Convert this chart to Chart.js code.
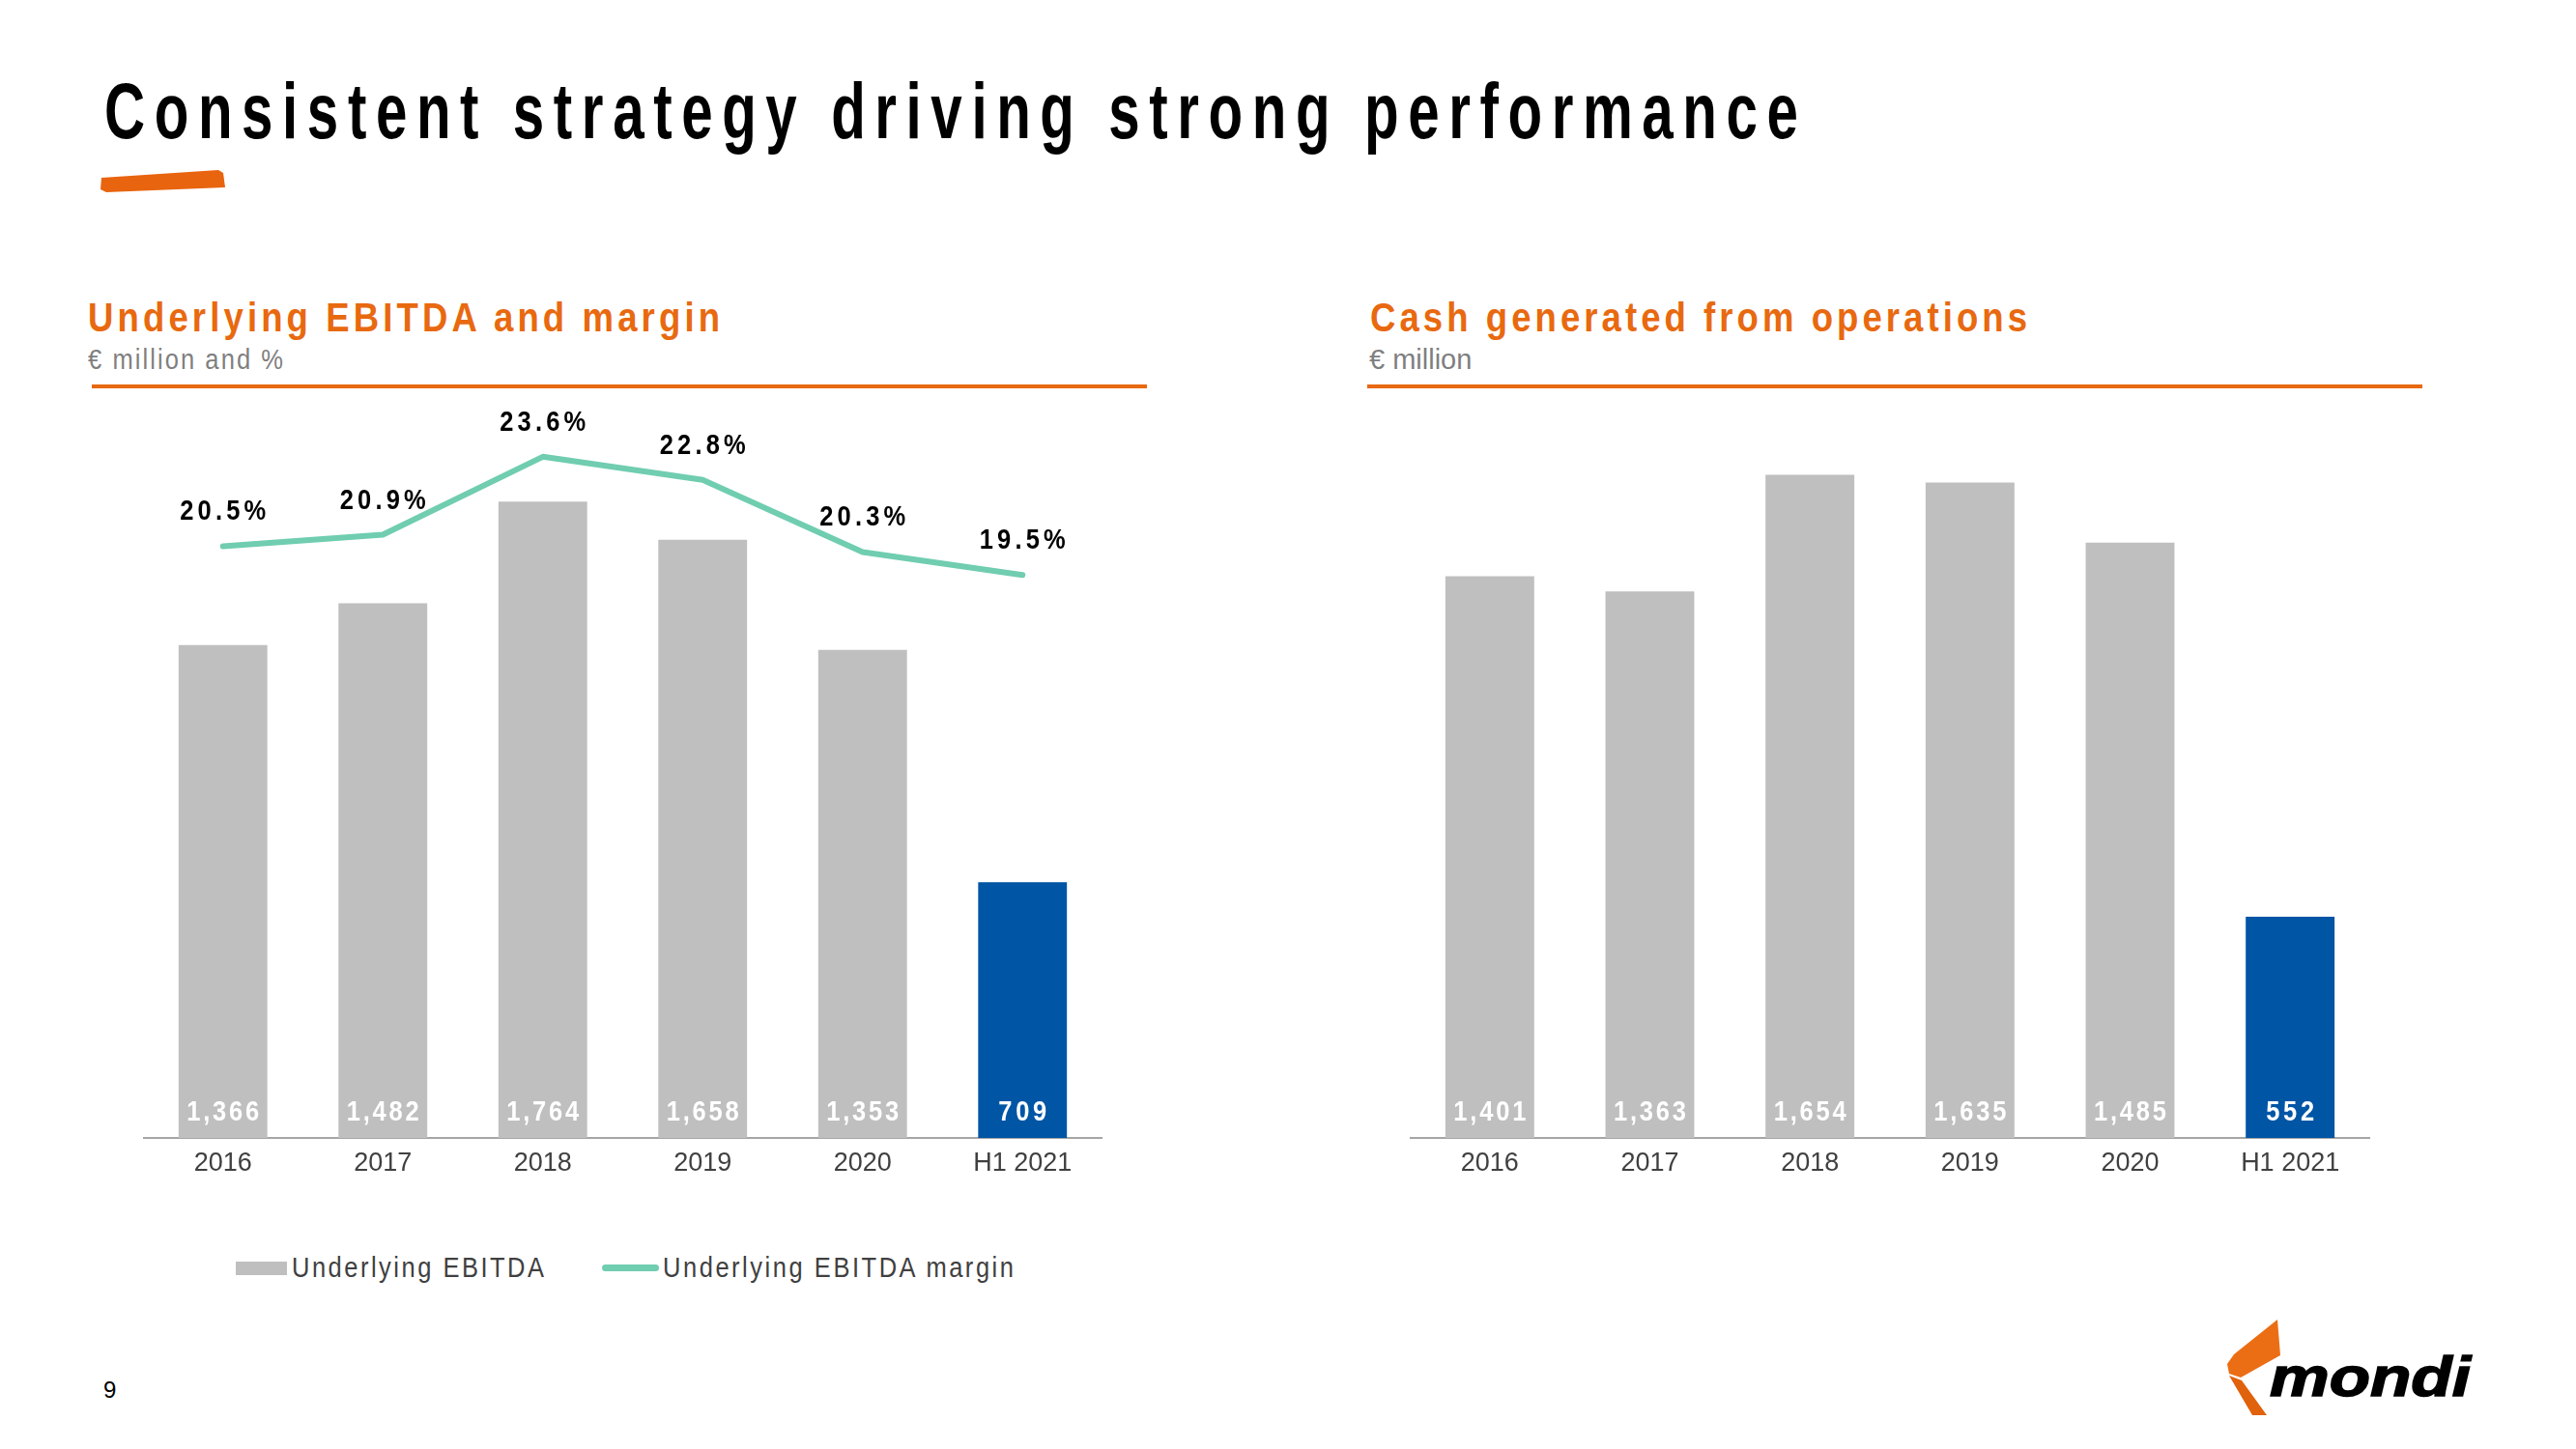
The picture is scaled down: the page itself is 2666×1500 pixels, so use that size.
<!DOCTYPE html>
<html><head><meta charset="utf-8">
<script src="https://cdn.jsdelivr.net/npm/chart.js@4.4.0/dist/chart.umd.min.js"></script>
<style>
html,body{margin:0;padding:0;background:#fff;}
body{width:2666px;height:1500px;position:relative;overflow:hidden;font-family:'Liberation Sans',Arial,sans-serif;}
.t{position:absolute;white-space:nowrap;line-height:1;transform-origin:0 0;}
canvas{position:absolute;}
.blk{position:absolute;}
</style></head><body>

<div class="t" style="left:108px;top:75px;font-size:81px;font-weight:bold;color:#000" data-w="1753" data-s="0.72">Consistent strategy driving strong performance</div>
<svg class="blk" style="left:0;top:0" width="300" height="220" viewBox="0 0 300 220">
  <polygon points="105,184 226,176 231,179 233,194 110,199 104,196" fill="#E8640E"/>
</svg>

<div class="t" style="left:91px;top:307px;font-size:43px;font-weight:bold;color:#E8690F" data-w="654" data-s="0.85">Underlying EBITDA and margin</div>
<div class="t" style="left:91px;top:358px;font-size:29px;color:#7F7F7F" data-w="202" data-s="0.88">€ million and %</div>
<div class="blk" style="left:95px;top:398px;width:1092px;height:4px;background:#E8690F"></div>

<div class="t" style="left:1418px;top:307px;font-size:43px;font-weight:bold;color:#E8690F" data-w="680" data-s="0.85">Cash generated from operations</div>
<div class="t" style="left:1417px;top:358px;font-size:29px;color:#7F7F7F">€ million</div>
<div class="blk" style="left:1415px;top:398px;width:1092px;height:4px;background:#E8690F"></div>

<canvas id="c1" width="993" height="889" style="left:148px;top:351px"></canvas>
<canvas id="c2" width="994" height="889" style="left:1459px;top:351px"></canvas>

<div class="blk" style="left:244px;top:1306px;width:53px;height:14px;background:#BFBFBF"></div>
<div class="t" style="left:302px;top:1297px;font-size:30px;color:#404040" data-w="261" data-s="0.85">Underlying EBITDA</div>
<div class="blk" style="left:623px;top:1308.5px;width:59px;height:7px;border-radius:4px;background:#70CDB0"></div>
<div class="t" style="left:686px;top:1297px;font-size:30px;color:#404040" data-w="363" data-s="0.85">Underlying EBITDA margin</div>

<div class="t" style="left:107px;top:1427px;font-size:24px;color:#000">9</div>

<svg class="blk" style="left:2280px;top:1350px" width="320" height="130" viewBox="2280 1350 320 130">
  <polygon points="2357,1366 2360,1403 2319,1426 2307,1422 2305,1412 2312,1402" fill="#EB6E14"/>
  <polygon points="2307,1424 2320,1429 2346,1465 2331,1465" fill="#E0620C"/>
  <text x="2349" y="1445" font-family="Liberation Sans, Arial" font-weight="900" font-style="italic" font-size="58" textLength="208" lengthAdjust="spacingAndGlyphs" fill="#000" stroke="#000" stroke-width="1.5">mondi</text>
</svg>

<script>
// ---- data ----
const categories = ['2016', '2017', '2018', '2019', '2020', 'H1 2021'];
const ebitda = [1366, 1482, 1764, 1658, 1353, 709];
const ebitdaMargin = [20.5, 20.9, 23.6, 22.8, 20.3, 19.5];
const cashGenerated = [1401, 1363, 1654, 1635, 1485, 552];

// ---- styles ----
const GRAY = '#BFBFBF', BLUE = '#0055A5', TEAL = '#70CDB0';
const barColors = categories.map(c => c.startsWith('H1') ? BLUE : GRAY);

// fit HTML text: condensed glyphs with letter spacing
document.querySelectorAll('.t[data-w]').forEach(el => {
  const s = +el.dataset.s, w = +el.dataset.w;
  el.style.letterSpacing = '0px';
  const w0 = el.getBoundingClientRect().width;
  const n = [...el.textContent].length;
  const ls = (w / s - w0) / (n - 1);
  el.style.letterSpacing = ls + 'px';
  el.style.transform = 'scaleX(' + s + ')';
});

function drawSpaced(ctx, text, cx, baseY, s, extra) {
  const W = ctx.measureText(text).width;
  const n = text.length;
  const ls = n > 1 ? (W * (1 - s) / s + (extra || 0) / s) / (n - 1) : 0;
  const total = s * (W + ls * (n - 1));
  ctx.save();
  ctx.translate(cx - total / 2, baseY);
  ctx.scale(s, 1);
  ctx.letterSpacing = ls + 'px';
  ctx.textAlign = 'left';
  ctx.textBaseline = 'alphabetic';
  ctx.fillText(text, 0, 0);
  ctx.restore();
}

const labelPlugin = {
  id: 'valueLabels',
  afterDatasetsDraw(chart) {
    const ctx = chart.ctx;
    chart.data.datasets.forEach((ds, i) => {
      const meta = chart.getDatasetMeta(i);
      if (meta.type === 'line') {
        ctx.font = 'bold 30px "Liberation Sans", Arial';
        ctx.fillStyle = '#000';
        meta.data.forEach((pt, j) => {
          drawSpaced(ctx, ds.data[j].toFixed(1) + '%', pt.x, pt.y - 27, 0.85, 4);
        });
      } else {
        ctx.font = 'bold 30px "Liberation Sans", Arial';
        meta.data.forEach((bar, j) => {
          ctx.fillStyle = '#FFFFFF';
          drawSpaced(ctx, ds.data[j].toLocaleString('en-US'), bar.x, bar.base - 18, 0.85, 0);
        });
      }
    });
  }
};

function xScale(h) {
  return {
    grid: { display: false, drawTicks: false },
    border: { display: true, color: '#A6A6A6', width: 2 },
    ticks: { color: '#404040', font: { family: '"Liberation Sans", Arial', size: 27 }, padding: 10 },
    afterFit: s => { s.height = h; }
  };
}

const common = {
  responsive: false,
  animation: false,
  devicePixelRatio: 1,
  layout: { padding: { top: 80, left: 0, right: 0, bottom: 0 } },
  plugins: { legend: { display: false }, tooltip: { enabled: false } }
};

new Chart(document.getElementById('c1'), {
  type: 'bar',
  data: {
    labels: categories,
    datasets: [
      { type: 'line', label: 'Underlying EBITDA margin', data: ebitdaMargin, yAxisID: 'y1',
        borderColor: TEAL, borderWidth: 6, pointRadius: 0, tension: 0, order: 0,
        borderCapStyle: 'round', borderJoinStyle: 'round' },
      { type: 'bar', label: 'Underlying EBITDA', data: ebitda, yAxisID: 'y',
        backgroundColor: barColors, barPercentage: 0.555, categoryPercentage: 1, order: 1 }
    ]
  },
  options: Object.assign({}, common, {
    scales: {
      x: xScale(62),
      y: { display: false, min: 0, max: 2000 },
      y1: { display: false, min: 0, max: 25, position: 'right' }
    }
  }),
  plugins: [labelPlugin]
});

new Chart(document.getElementById('c2'), {
  type: 'bar',
  data: {
    labels: categories,
    datasets: [
      { label: 'Cash generated from operations', data: cashGenerated,
        backgroundColor: barColors, barPercentage: 0.555, categoryPercentage: 1 }
    ]
  },
  options: Object.assign({}, common, {
    scales: {
      x: xScale(62),
      y: { display: false, min: 0, max: 1800 }
    }
  }),
  plugins: [labelPlugin]
});
</script>
</body></html>
